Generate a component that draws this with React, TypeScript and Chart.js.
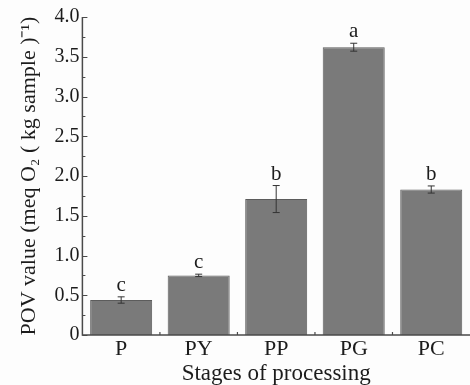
import React, { useEffect, useRef } from "react";
import { Chart, registerables } from "chart.js";

Chart.register(...registerables);

const categories = ["P", "PY", "PP", "PG", "PC"];
const values = [0.44, 0.75, 1.71, 3.62, 1.83];
const errors = [0.04, 0.015, 0.17, 0.05, 0.045];
const letters = ["c", "c", "b", "a", "b"];
const yTicks = [0, 0.5, 1, 1.5, 2, 2.5, 3, 3.5, 4];

const FONT = "Liberation Serif";
const TEXT = "#1c1c1c";
const AXIS = "#4a4a4a";

const annotatePlugin = {
  id: "annotate",
  afterDatasetsDraw(chart: any) {
    const ctx = chart.ctx;
    const y = chart.scales.y;
    const x = chart.scales.x;
    const area = chart.chartArea;
    const meta = chart.getDatasetMeta(0);
    ctx.save();
    meta.data.forEach((bar: any, i: number) => {
      const cx = bar.x;
      const top = y.getPixelForValue(values[i] + errors[i]);
      const bot = y.getPixelForValue(values[i] - errors[i]);
      ctx.strokeStyle = "#333";
      ctx.lineWidth = 1;
      ctx.beginPath();
      ctx.moveTo(cx, top);
      ctx.lineTo(cx, bot);
      ctx.moveTo(cx - 3.5, top);
      ctx.lineTo(cx + 3.5, top);
      ctx.moveTo(cx - 3.5, bot);
      ctx.lineTo(cx + 3.5, bot);
      ctx.stroke();
      ctx.fillStyle = TEXT;
      ctx.font = `21px "${FONT}", serif`;
      ctx.textAlign = "center";
      ctx.textBaseline = "alphabetic";
      ctx.fillText(letters[i], cx, top - 6);
    });
    ctx.strokeStyle = AXIS;
    ctx.lineWidth = 1.2;
    ctx.beginPath();
    for (let k = 0; k <= 16; k++) {
      const v = k * 0.25;
      const py = Math.round(y.getPixelForValue(v)) + 0.5;
      const len = k % 2 === 0 ? 5 : 3;
      ctx.moveTo(area.left, py);
      ctx.lineTo(area.left + len, py);
    }
    for (let i = 0; i < categories.length - 1; i++) {
      const bx = (x.getPixelForValue(i) + x.getPixelForValue(i + 1)) / 2;
      ctx.moveTo(bx, area.bottom);
      ctx.lineTo(bx, area.bottom - 3);
    }
    ctx.stroke();
    ctx.lineWidth = 1.5;
    ctx.beginPath();
    ctx.moveTo(area.left, area.top);
    ctx.lineTo(area.left, area.bottom);
    ctx.lineTo(area.right, area.bottom);
    ctx.stroke();
    ctx.restore();
  },
};

export default function App() {
  const ref = useRef<HTMLCanvasElement>(null);
  useEffect(() => {
    if (!ref.current) return;
    const fam = `"${FONT}", serif`;
    const chart = new Chart(ref.current, {
      type: "bar",
      data: {
        labels: categories,
        datasets: [
          {
            data: values,
            backgroundColor: "#7a7a7a",
            borderColor: "#5c5c5c",
            borderWidth: 1,
            categoryPercentage: 1,
            barPercentage: 0.8,
          },
        ],
      },
      options: {
        responsive: false,
        animation: false,
        layout: { padding: { top: 17, right: -6, bottom: -3, left: 16 } },
        plugins: { legend: { display: false }, tooltip: { enabled: false } },
        scales: {
          x: {
            grid: { display: false, drawTicks: false },
            border: { display: false },
            ticks: { color: TEXT, font: { family: fam, size: 22 }, padding: 1 },
            title: {
              display: true,
              text: "Stages of processing",
              color: TEXT,
              font: { family: fam, size: 23 },
              padding: { top: -3, bottom: 0 },
            },
          },
          y: {
            min: 0,
            max: 4,
            afterBuildTicks: (axis: any) => {
              axis.ticks = yTicks.map((v) => ({ value: v }));
            },
            grid: { display: false, drawTicks: false },
            border: { display: false },
            ticks: {
              color: TEXT,
              font: { family: fam, size: 20 },
              padding: 3,
              callback: (v: any) => (v === 0 ? "0" : Number(v).toFixed(1)),
            },
            title: {
              display: true,
              text: "POV value (meq O\u2082 ( kg sample )\u207B\u00B9)",
              color: TEXT,
              font: { family: fam, size: 22 },
              padding: { top: 0, bottom: 9 },
            },
          },
        },
      },
      plugins: [annotatePlugin],
    });
    return () => chart.destroy();
  }, []);
  return (
    <div style={{ position: "fixed", left: 0, top: 0, width: 470, height: 385, background: "#fdfdfd" }}>
      <canvas ref={ref} width={470} height={385} />
    </div>
  );
}
